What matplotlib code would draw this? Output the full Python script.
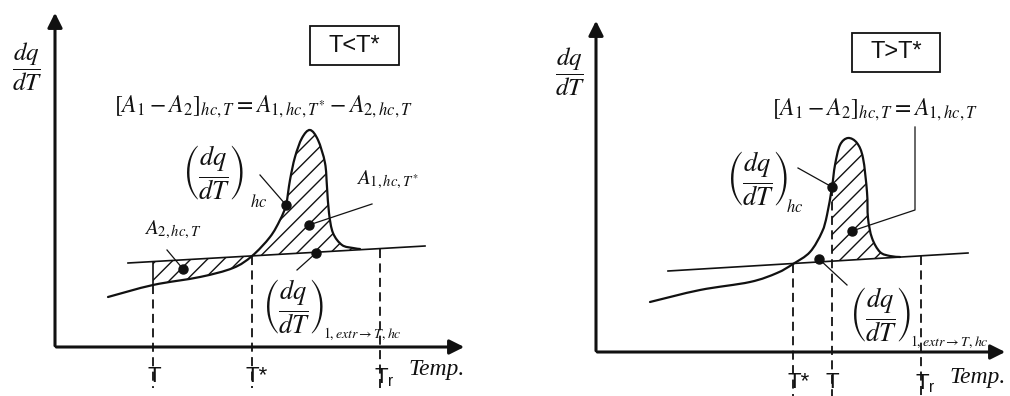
import numpy as np
import matplotlib
matplotlib.use("Agg")
import matplotlib.pyplot as plt
from matplotlib.path import Path
from matplotlib.patches import PathPatch, Rectangle

plt.rcParams['mathtext.fontset'] = 'stix'
plt.rcParams['hatch.linewidth'] = 1.0

# schematic data, x = temperature, y = dq/dT (arbitrary units)
# left panel: T < T*
curve_l_x = [53, 98, 145, 178, 197, 215, 225, 231, 235, 240, 247, 255, 263, 270, 272, 274, 278, 287, 298, 305]
curve_l_y = [50, 62, 70, 79, 91, 110, 127, 142, 167, 190, 209, 217, 207, 184, 160, 134, 114, 102, 99, 98]
base_l_x = [73, 370]
base_l_y = [84, 101]
T_l, Tstar_l, Tr_l = 98, 197, 325
dots_l_x = [128, 231, 254, 261]
dots_l_y = [78, 142, 122, 94]

# right panel: T > T*
curve_r_x = [54, 104, 154, 181, 197, 214, 226, 231, 236, 239, 244, 252, 261, 267, 271, 272, 276, 284, 294, 304]
curve_r_y = [50, 62, 70, 79, 88, 100, 120, 137, 165, 187, 207, 214, 209, 194, 160, 134, 114, 100, 96, 95]
base_r_x = [72, 372]
base_r_y = [81, 99]
T_r, Tstar_r, Tr_r = 236, 197, 325
dots_r_x = [236, 256, 223]
dots_r_y = [165, 121, 93]

ink = '#111111'
fig = plt.figure(figsize=(10.10, 3.96), dpi=100)
ax1 = fig.add_axes([0, 0, 0.5, 1])
ax2 = fig.add_axes([0.5, 0, 0.5, 1])
ax1.set_xlim(-55, 450)
ax1.set_ylim(-49, 347)
ax2.set_xlim(-91, 414)
ax2.set_ylim(-44, 352)
for ax in (ax1, ax2):
    ax.axis('off')


def base_at(x, bx, by):
    return float(np.interp(x, bx, by))


def smooth_segments(xs, ys, i0, i1):
    # cubic bezier pieces (catmull-rom handles) through the read points i0..i1
    p = np.column_stack([xs, ys]).astype(float)
    n = len(p)
    verts = [p[i0]]
    codes = [Path.MOVETO]
    for i in range(i0, i1):
        a = p[max(i - 1, 0)]
        b = p[i]
        c = p[i + 1]
        d = p[min(i + 2, n - 1)]
        verts += [b + (c - a) / 6.0, c - (d - b) / 6.0, c]
        codes += [Path.CURVE4] * 3
    return verts, codes


def draw_curve(ax, xs, ys):
    v, c = smooth_segments(xs, ys, 0, len(xs) - 1)
    ax.add_patch(PathPatch(Path(v, c), fc='none', ec=ink, lw=1.6, capstyle='round'))


def hatch_region(ax, xs, ys, i0, i1, bx, by):
    v, c = smooth_segments(xs, ys, i0, i1)
    v += [(xs[i1], base_at(xs[i1], bx, by)), (xs[i0], base_at(xs[i0], bx, by)), v[0]]
    c += [Path.LINETO, Path.LINETO, Path.CLOSEPOLY]
    ax.add_patch(PathPatch(Path(v, c), fc='none', ec=ink, hatch='//', lw=0))


def axes_arrows(ax, xend, yend, lab_x):
    ax.annotate('', xy=(0, yend), xytext=(0, -1.5),
                arrowprops=dict(arrowstyle='-|>', lw=2.2, color=ink, mutation_scale=22),
                annotation_clip=False)
    ax.annotate('', xy=(xend, 0), xytext=(-1.5, 0),
                arrowprops=dict(arrowstyle='-|>', lw=2.2, color=ink, mutation_scale=22),
                annotation_clip=False)
    ax.text(lab_x, 280, r'$\dfrac{dq}{dT}$', fontsize=18, ha='center', va='center', color=ink)


def dashed(ax, x, ytop, ybot):
    ax.plot([x, x], [ytop, ybot], color=ink, lw=1.3, ls=(0, (5, 3)), clip_on=False)


def frac_label(ax, x, y, sx, sy, sub, sub_fs):
    ax.text(x, y, r'$\left(\dfrac{dq}{dT}\right)$', fontsize=19, ha='center', va='center', color=ink)
    ax.text(sx, sy, sub, fontsize=sub_fs, ha='left', va='center', color=ink)


def box_label(ax, x0, y0, w, h, s):
    ax.add_patch(Rectangle((x0, y0), w, h, fc='white', ec=ink, lw=1.3))
    ax.text(x0 + w / 2, y0 + h / 2, s, fontsize=17, family='Liberation Sans',
            ha='center', va='center', color=ink)


def tick_labels(ax, items, y):
    for x, lab in items:
        ax.text(x - 6, y, lab, fontsize=16, family='Liberation Sans', ha='left',
                va='center', color=ink)


# ---------- left panel ----------
hatch_region(ax1, curve_l_x, curve_l_y, curve_l_x.index(T_l), curve_l_x.index(Tstar_l),
             base_l_x, base_l_y)
hatch_region(ax1, curve_l_x, curve_l_y, curve_l_x.index(Tstar_l), len(curve_l_x) - 1,
             base_l_x, base_l_y)
ax1.plot(base_l_x, base_l_y, color=ink, lw=1.2)
draw_curve(ax1, curve_l_x, curve_l_y)
ax1.plot([T_l, T_l], [62, base_at(T_l, base_l_x, base_l_y)], color=ink, lw=1.2)
dashed(ax1, T_l, 62, -41)
dashed(ax1, Tstar_l, 91, -41)
dashed(ax1, Tr_l, base_at(Tr_l, base_l_x, base_l_y), -41)
axes_arrows(ax1, 412, 337, -28)
ax1.plot(dots_l_x, dots_l_y, 'o', color=ink, ms=6.5)
ax1.plot([112, dots_l_x[0]], [97, dots_l_y[0]], color=ink, lw=0.9)
ax1.plot([205, dots_l_x[1]], [172, dots_l_y[1]], color=ink, lw=0.9)
ax1.plot([317, dots_l_x[2]], [143, dots_l_y[2]], color=ink, lw=0.9)
ax1.plot([dots_l_x[3], 242], [dots_l_y[3], 77], color=ink, lw=0.9)

box_label(ax1, 255, 282, 89, 39, 'T<T*')
ax1.text(209, 240, r'$\left[A_1 - A_2\right]_{hc,T} = A_{1,hc,T^{*}} - A_{2,hc,T}$',
         fontsize=17, ha='center', va='center', color=ink)
frac_label(ax1, 158, 175, 195, 149, r'$_{hc}$', 17)
ax1.text(118, 117, r'$A_{2,hc,T}$', fontsize=15, ha='center', va='center', color=ink)
ax1.text(332, 167, r'$A_{1,hc,T^{*}}$', fontsize=15, ha='center', va='center', color=ink)
frac_label(ax1, 238, 40, 268, 13, r'$1,extr\rightarrow T,hc$', 10)
tick_labels(ax1, [(T_l, 'T'), (Tstar_l, 'T*'), (Tr_l, r'T$_\mathregular{r}$')], -30)
ax1.text(382, -23, 'Temp.', fontsize=17, family='Liberation Serif', style='italic',
         ha='center', va='center', color=ink)

# ---------- right panel ----------
hatch_region(ax2, curve_r_x, curve_r_y, curve_r_x.index(T_r), len(curve_r_x) - 1,
             base_r_x, base_r_y)
ax2.plot(base_r_x, base_r_y, color=ink, lw=1.2)
draw_curve(ax2, curve_r_x, curve_r_y)
dashed(ax2, Tstar_r, 88, -44)
dashed(ax2, T_r, 165, -44)
dashed(ax2, Tr_r, base_at(Tr_r, base_r_x, base_r_y), -44)
axes_arrows(ax2, 412, 334, -26)
ax2.plot(dots_r_x, dots_r_y, 'o', color=ink, ms=6.5)
ax2.plot([202, dots_r_x[0]], [184, dots_r_y[0]], color=ink, lw=0.9)
ax2.plot([dots_r_x[1], 319, 319], [dots_r_y[1], 142, 225], color=ink, lw=0.9)
ax2.plot([dots_r_x[2], 251], [dots_r_y[2], 67], color=ink, lw=0.9)

box_label(ax2, 256, 280, 88, 39, 'T>T*')
ax2.text(279, 242, r'$\left[A_1 - A_2\right]_{hc,T} = A_{1,hc,T}$',
         fontsize=17, ha='center', va='center', color=ink)
frac_label(ax2, 161, 174, 190, 149, r'$_{hc}$', 17)
frac_label(ax2, 284, 37, 314, 10, r'$1,extr\rightarrow T,hc$', 10)
tick_labels(ax2, [(Tstar_r, 'T*'), (T_r, 'T'), (Tr_r, r'T$_\mathregular{r}$')], -31)
ax2.text(382, -26, 'Temp.', fontsize=17, family='Liberation Serif', style='italic',
         ha='center', va='center', color=ink)

fig.savefig('out.png', dpi=100, facecolor='white')
